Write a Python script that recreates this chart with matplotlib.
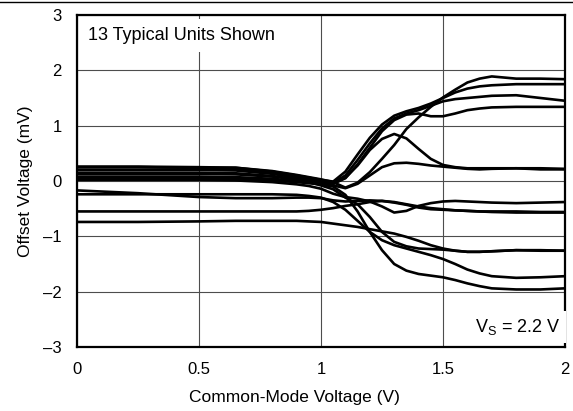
import numpy as np
import matplotlib as mpl
import matplotlib.pyplot as plt
from matplotlib.lines import Line2D

mpl.rcParams.update({
    "font.family": ["Liberation Sans", "DejaVu Sans"],
    "font.size": 12,
    "mathtext.fontset": "custom",
    "mathtext.rm": "Liberation Sans",
})

# common-mode voltage (V) where each unit was read
vcm = [0, 0.25, 0.5, 0.65, 0.8, 0.9, 0.95, 1.0, 1.05, 1.1, 1.15, 1.2, 1.25,
       1.3, 1.35, 1.4, 1.45, 1.5, 1.55, 1.6, 1.65, 1.7, 1.8, 1.9, 2.0]

# offset voltage (mV), one list per unit
unit_01 = [0.25, 0.25, 0.24, 0.24, 0.18, 0.11, 0.07, 0.03, -0.02, -0.12, -0.03, 0.16, 0.40,
           0.65, 0.94, 1.15, 1.34, 1.51, 1.65, 1.78, 1.85, 1.89, 1.85, 1.85, 1.84]
unit_02 = [0.26, 0.26, 0.25, 0.24, 0.17, 0.10, 0.06, 0.02, -0.01, 0.17, 0.48, 0.78, 1.02,
           1.18, 1.26, 1.32, 1.40, 1.50, 1.60, 1.67, 1.71, 1.73, 1.75, 1.75, 1.75]
unit_03 = [0.25, 0.25, 0.24, 0.22, 0.15, 0.08, 0.04, 0.00, -0.03, 0.10, 0.38, 0.68, 0.95,
           1.13, 1.22, 1.28, 1.36, 1.44, 1.48, 1.50, 1.52, 1.54, 1.55, 1.50, 1.45]
unit_04 = [0.20, 0.20, 0.20, 0.19, 0.13, 0.06, 0.02, -0.02, -0.05, 0.05, 0.30, 0.60, 0.90,
           1.10, 1.20, 1.22, 1.17, 1.17, 1.22, 1.28, 1.31, 1.33, 1.34, 1.34, 1.34]
unit_05 = [0.13, 0.13, 0.13, 0.12, 0.08, 0.03, 0.00, -0.03, -0.05, 0.06, 0.28, 0.56, 0.76,
           0.85, 0.77, 0.58, 0.40, 0.29, 0.25, 0.23, 0.23, 0.23, 0.23, 0.23, 0.22]
unit_06 = [0.08, 0.08, 0.08, 0.07, 0.04, 0.00, -0.03, -0.05, -0.08, -0.13, -0.05, 0.10, 0.25,
           0.32, 0.33, 0.31, 0.28, 0.26, 0.24, 0.22, 0.21, 0.22, 0.23, 0.21, 0.21]
unit_07 = [0.02, 0.02, 0.02, 0.01, -0.02, -0.06, -0.09, -0.14, -0.23, -0.29, -0.32, -0.37, -0.46,
           -0.57, -0.54, -0.45, -0.40, -0.37, -0.36, -0.37, -0.38, -0.39, -0.40, -0.39, -0.38]
unit_08 = [-0.17, -0.22, -0.29, -0.31, -0.31, -0.30, -0.30, -0.31, -0.35, -0.37, -0.36, -0.35, -0.36,
           -0.39, -0.43, -0.48, -0.51, -0.52, -0.53, -0.54, -0.55, -0.55, -0.55, -0.56, -0.56]
unit_09 = [-0.55, -0.55, -0.55, -0.55, -0.55, -0.55, -0.54, -0.52, -0.49, -0.45, -0.42, -0.38, -0.36,
           -0.38, -0.42, -0.46, -0.49, -0.51, -0.53, -0.54, -0.55, -0.56, -0.57, -0.57, -0.57]
unit_10 = [-0.74, -0.74, -0.73, -0.72, -0.72, -0.72, -0.73, -0.74, -0.77, -0.80, -0.83, -0.87, -0.91,
           -0.95, -1.01, -1.08, -1.16, -1.22, -1.26, -1.28, -1.28, -1.27, -1.25, -1.25, -1.26]
unit_11 = [0.15, 0.15, 0.15, 0.14, 0.09, 0.03, -0.02, -0.08, -0.15, -0.30, -0.42, -0.65, -0.92,
           -1.10, -1.18, -1.22, -1.23, -1.24, -1.26, -1.28, -1.28, -1.27, -1.25, -1.26, -1.26]
unit_12 = [-0.24, -0.24, -0.24, -0.24, -0.24, -0.25, -0.27, -0.30, -0.38, -0.52, -0.72, -0.92, -1.07,
           -1.16, -1.22, -1.28, -1.34, -1.41, -1.50, -1.60, -1.67, -1.72, -1.75, -1.74, -1.72]
unit_13 = [0.05, 0.05, 0.05, 0.04, 0.01, -0.02, -0.04, -0.06, -0.10, -0.25, -0.55, -0.92, -1.25,
           -1.50, -1.62, -1.68, -1.71, -1.74, -1.79, -1.85, -1.90, -1.94, -1.96, -1.96, -1.94]

units = [unit_01, unit_02, unit_03, unit_04, unit_05, unit_06, unit_07,
         unit_08, unit_09, unit_10, unit_11, unit_12, unit_13]

x_ticks = [0, 0.5, 1, 1.5, 2]
x_labels = ["0", "0.5", "1", "1.5", "2"]
y_ticks = [-3, -2, -1, 0, 1, 2, 3]
y_labels = ["\u20133", "\u20132", "\u20131", "0", "1", "2", "3"]

fig = plt.figure(figsize=(5.73, 4.11), dpi=100)
ax = fig.add_axes([0.1344, 0.1557, 0.8516, 0.8078])

for u in units:
    ax.plot(vcm, u, color="black", linewidth=1.9, solid_joinstyle="round", zorder=3)

ax.set_xlim(0, 2)
ax.set_ylim(-3, 3)
ax.set_xticks(x_ticks)
ax.set_xticklabels(x_labels)
ax.set_yticks(y_ticks)
ax.set_yticklabels(y_labels)
ax.tick_params(axis="x", length=0, pad=11, labelsize=12)
ax.tick_params(axis="y", length=0, pad=11, labelsize=12)
ax.grid(True, color="0.3", linewidth=0.8)
ax.set_axisbelow(True)
for s in ax.spines.values():
    s.set_linewidth(1.6)

ax.set_xlabel("Common-Mode Voltage (V)", fontsize=12.5)
ax.xaxis.set_label_coords(0.445, -0.128)
ax.set_ylabel("Offset Voltage (mV)", fontsize=12.5, labelpad=7)

ax.text(0.045, 2.63, "13 Typical Units Shown", ha="left", va="center", fontsize=13,
        zorder=4, bbox=dict(facecolor="white", edgecolor="none", pad=6))
ax.text(1.98, -2.64, r"$\mathregular{V_S}$ = 2.2 V", ha="right", va="center", fontsize=13,
        zorder=4, bbox=dict(facecolor="white", edgecolor="none", pad=4))

# thin rule across the top of the figure
fig.add_artist(Line2D([0, 1], [0.995, 0.995], color="black", linewidth=1.0,
                      transform=fig.transFigure))

fig.savefig("out.png", dpi=100)
